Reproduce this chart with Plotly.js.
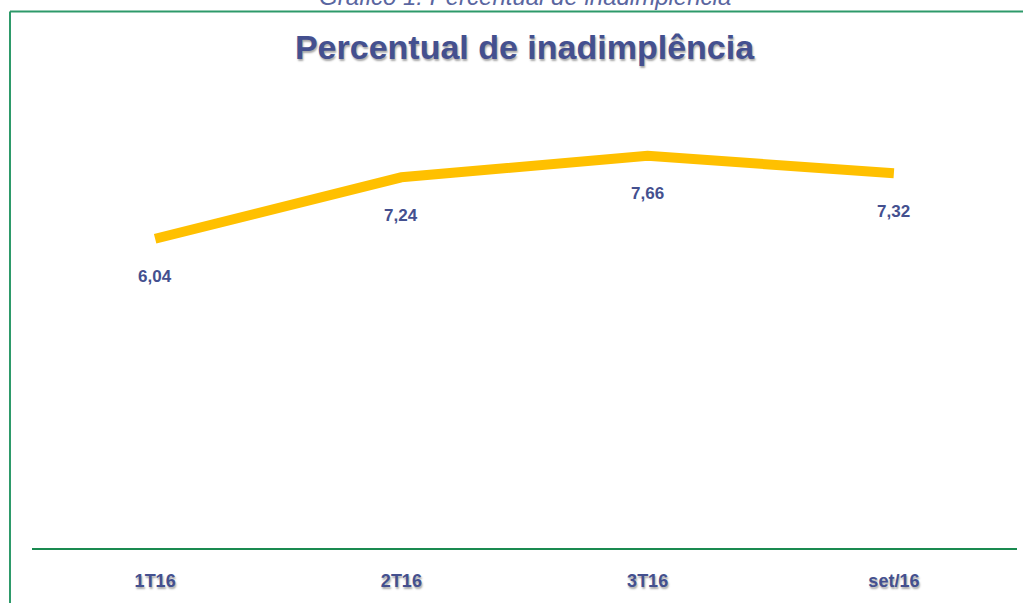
<!DOCTYPE html>
<html>
<head>
<meta charset="utf-8">
<script src="https://cdn.plot.ly/plotly-3.0.1.min.js"></script>
<style>html,body{margin:0;padding:0;background:#fff;}#chart{width:1023px;height:603px;}</style>
</head>
<body>
<div id="chart"></div>
<script>
const categories = ['1T16', '2T16', '3T16', 'set/16'];
const values = [6.04, 7.24, 7.66, 7.32];
const valueLabels = ['6,04', '7,24', '7,66', '7,32'];
const chartTitle = 'Percentual de inadimplência';
const captionText = 'Gráfico 1: Percentual de inadimplência';

const textBlue = '#44508f';
const fontFam = 'Liberation Sans, Arial, sans-serif';
const shadow = '1px 2px 2px rgba(0,0,0,0.35)';

const trace = {
  x: categories,
  y: values,
  type: 'scatter',
  mode: 'lines',
  line: {color: '#FFC000', width: 10},
  hoverinfo: 'skip'
};

const annotations = categories.map((c, i) => ({
  x: c, y: values[i], xref: 'x', yref: 'y',
  text: '<b>' + valueLabels[i] + '</b>',
  showarrow: false, yshift: -38, xshift: 0,
  font: {family: fontFam, size: 17, color: textBlue}
}));
annotations.push({
  xref: 'paper', yref: 'paper', x: 0.5, y: (548 + 4) / 512,
  yanchor: 'middle', xanchor: 'center', showarrow: false,
  text: '<i>' + captionText + '</i>',
  font: {family: fontFam, size: 24, color: '#5a66a0'}
});

const layout = {
  width: 1023, height: 603,
  margin: {l: 32, r: 6, t: 36, b: 55},
  paper_bgcolor: '#fff', plot_bgcolor: '#fff',
  showlegend: false,
  title: {
    text: '<b>' + chartTitle + '</b>',
    font: {family: fontFam, size: 34, color: textBlue, shadow: shadow},
    x: 0.5, xref: 'paper', xanchor: 'center',
    y: 1 - 47 / 603, yref: 'container', yanchor: 'middle'
  },
  xaxis: {
    type: 'category', range: [-0.5, 3.5],
    showgrid: false, zeroline: false,
    showline: true, linecolor: '#1a8a50', linewidth: 2,
    ticks: '', ticklabelstandoff: 15,
    tickfont: {family: fontFam, size: 18, color: textBlue, weight: 'bold', shadow: shadow},
    fixedrange: true
  },
  yaxis: {
    range: [0, 10], visible: false, showgrid: false, zeroline: false, fixedrange: true
  },
  annotations: annotations,
  shapes: [
    {type: 'line', xref: 'paper', yref: 'paper',
     x0: (10 - 32) / 985, x1: 1.1, y0: (548 - 11.5) / 512, y1: (548 - 11.5) / 512,
     line: {color: '#2e9a6a', width: 2}},
    {type: 'line', xref: 'paper', yref: 'paper',
     x0: (10 - 32) / 985, x1: (10 - 32) / 985, y0: (548 - 11.5) / 512, y1: -0.2,
     line: {color: '#2e9a6a', width: 2}}
  ]
};

Plotly.newPlot('chart', [trace], layout, {staticPlot: true, displayModeBar: false});
</script>
</body>
</html>
